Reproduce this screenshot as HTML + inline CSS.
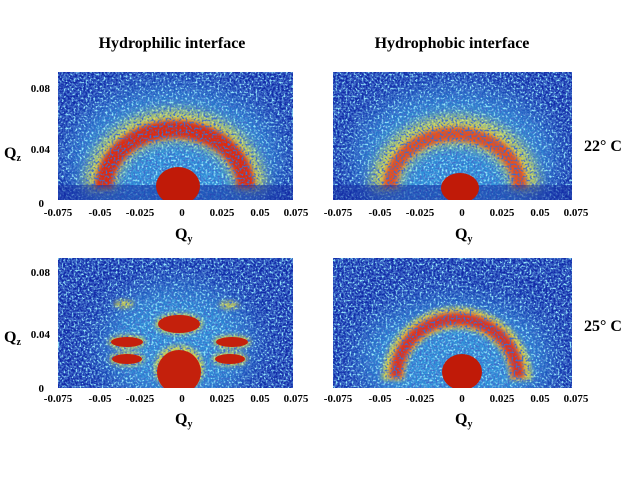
<!DOCTYPE html>
<html><head><meta charset="utf-8"><style>
body{margin:0;background:#fff;width:640px;height:480px;overflow:hidden}
text{font-family:"Liberation Serif",serif;font-weight:bold;fill:#000}
</style></head><body>
<svg width="640" height="480" xmlns="http://www.w3.org/2000/svg">
<defs>
<filter id="b6" x="-50%" y="-50%" width="200%" height="200%"><feGaussianBlur stdDeviation="6"/></filter>
<filter id="b3" x="-50%" y="-50%" width="200%" height="200%"><feGaussianBlur stdDeviation="2.5"/></filter>
<filter id="b15" x="-50%" y="-50%" width="200%" height="200%"><feGaussianBlur stdDeviation="15"/></filter>
<filter id="nz" x="0" y="0" width="100%" height="100%">
<feTurbulence type="fractalNoise" baseFrequency="0.5" numOctaves="2" seed="3"/>
<feColorMatrix type="matrix" values="0 0 0 0 0.3  0 0 0 0 0.8  0 0 0 0 0.95  5 0 0 0 -2.45"/>
</filter>
<filter id="nd" x="0" y="0" width="100%" height="100%">
<feTurbulence type="fractalNoise" baseFrequency="0.5" numOctaves="2" seed="9"/>
<feColorMatrix type="matrix" values="0 0 0 0 0.05  0 0 0 0 0.15  0 0 0 0 0.6  0 5 0 0 -2.4"/>
</filter>
<clipPath id="c1"><rect x="58" y="72" width="235" height="128"/></clipPath>
<clipPath id="c2"><rect x="333" y="72" width="239" height="128"/></clipPath>
<clipPath id="c3"><rect x="58" y="258" width="235" height="130"/></clipPath>
<clipPath id="c4"><rect x="333" y="258" width="239" height="130"/></clipPath>
</defs>
<text x="172" y="48" font-size="16" text-anchor="middle">Hydrophilic interface</text>
<text x="452" y="48" font-size="16" text-anchor="middle">Hydrophobic interface</text>

<!-- Panel 1 -->
<g clip-path="url(#c1)">
<rect x="58" y="72" width="235" height="128" fill="#122aa8"/>
<ellipse cx="175" cy="160" rx="105" ry="72" fill="#2f8ed8" filter="url(#b15)"/>
<rect x="58" y="72" width="235" height="128" filter="url(#nz)"/>
<path d="M100 190 A75 65 0 0 1 250 190" stroke="#e8e040" stroke-width="30" fill="none" filter="url(#b6)" opacity="0.9"/>
<path d="M104 188 A70 58 0 0 1 246 188" stroke="#e02a10" stroke-width="18" fill="none" filter="url(#b3)"/>
<rect x="58" y="72" width="235" height="128" filter="url(#nd)"/>
<rect x="58" y="185" width="235" height="15" fill="#1228a0" opacity="0.5"/>
<ellipse cx="178" cy="186" rx="22" ry="19" fill="#c01a08"/>
</g>
<!-- Panel 2 -->
<g clip-path="url(#c2)">
<rect x="333" y="72" width="239" height="128" fill="#122aa8"/>
<ellipse cx="455" cy="160" rx="100" ry="70" fill="#2f8ed8" filter="url(#b15)"/>
<rect x="333" y="72" width="239" height="128" filter="url(#nz)"/>
<path d="M385 190 A70 60 0 0 1 525 190" stroke="#e8e040" stroke-width="28" fill="none" filter="url(#b6)" opacity="0.9"/>
<path d="M390 188 A65 54 0 0 1 520 188" stroke="#e8501a" stroke-width="14" fill="none" filter="url(#b3)"/>
<rect x="333" y="72" width="239" height="128" filter="url(#nd)"/>
<rect x="333" y="185" width="239" height="15" fill="#1228a0" opacity="0.5"/>
<ellipse cx="460" cy="188" rx="19" ry="15" fill="#c01a08"/>
</g>
<!-- Panel 3 -->
<g clip-path="url(#c3)">
<rect x="58" y="258" width="235" height="130" fill="#122aa8"/>
<ellipse cx="178" cy="345" rx="75" ry="60" fill="#2f8ed8" filter="url(#b15)"/>
<rect x="58" y="258" width="235" height="130" filter="url(#nz)"/>
<g filter="url(#b3)" fill="#e8e040" opacity="0.85">
<ellipse cx="179" cy="324" rx="24" ry="11"/><ellipse cx="127" cy="342" rx="19" ry="7"/><ellipse cx="127" cy="359" rx="18" ry="7"/>
<ellipse cx="232" cy="342" rx="19" ry="7"/><ellipse cx="230" cy="359" rx="18" ry="7"/><ellipse cx="179" cy="368" rx="25" ry="23"/>
<ellipse cx="124" cy="304" rx="10" ry="4"/><ellipse cx="229" cy="305" rx="10" ry="4"/>
</g>
<rect x="58" y="258" width="235" height="130" filter="url(#nd)"/>
<g fill="#c4200c">
<ellipse cx="179" cy="324" rx="21" ry="9"/><ellipse cx="127" cy="342" rx="16" ry="5"/><ellipse cx="127" cy="359" rx="15" ry="5"/>
<ellipse cx="232" cy="342" rx="16" ry="5"/><ellipse cx="230" cy="359" rx="15" ry="5"/><ellipse cx="179" cy="372" rx="22" ry="22"/>
</g>
</g>
<!-- Panel 4 -->
<g clip-path="url(#c4)">
<rect x="333" y="258" width="239" height="130" fill="#122aa8"/>
<ellipse cx="455" cy="360" rx="95" ry="60" fill="#2f8ed8" filter="url(#b15)"/>
<rect x="333" y="258" width="239" height="130" filter="url(#nz)"/>
<path d="M393 380 A64 62 0 0 1 521 380" stroke="#e8e040" stroke-width="22" fill="none" filter="url(#b3)" opacity="0.9"/>
<path d="M396 378 A60 58 0 0 1 518 378" stroke="#e0301a" stroke-width="13" fill="none" filter="url(#b3)"/>
<rect x="333" y="258" width="239" height="130" filter="url(#nd)"/>
<ellipse cx="462" cy="372" rx="20" ry="18" fill="#c01a08"/>
</g>

<g font-size="11">
<text x="50" y="92" text-anchor="end">0.08</text><text x="50" y="153" text-anchor="end">0.04</text><text x="44" y="207" text-anchor="end">0</text>
<text x="50" y="276" text-anchor="end">0.08</text><text x="50" y="338" text-anchor="end">0.04</text><text x="44" y="392" text-anchor="end">0</text>
</g>
<text x="4" y="158" font-size="16">Q<tspan font-size="10" dy="3">z</tspan></text>
<text x="4" y="342" font-size="16">Q<tspan font-size="10" dy="3">z</tspan></text>
<g font-size="11" text-anchor="middle">
<g transform="translate(0,216)">
<text x="58">-0.075</text><text x="100">-0.05</text><text x="140">-0.025</text><text x="182">0</text><text x="222">0.025</text><text x="260">0.05</text><text x="296">0.075</text>
</g>
<g transform="translate(0,402)">
<text x="58">-0.075</text><text x="100">-0.05</text><text x="140">-0.025</text><text x="182">0</text><text x="222">0.025</text><text x="260">0.05</text><text x="296">0.075</text>
</g>
<g transform="translate(280,216)">
<text x="58">-0.075</text><text x="100">-0.05</text><text x="140">-0.025</text><text x="182">0</text><text x="222">0.025</text><text x="260">0.05</text><text x="296">0.075</text>
</g>
<g transform="translate(280,402)">
<text x="58">-0.075</text><text x="100">-0.05</text><text x="140">-0.025</text><text x="182">0</text><text x="222">0.025</text><text x="260">0.05</text><text x="296">0.075</text>
</g>
</g>
<text x="175" y="239" font-size="16">Q<tspan font-size="10" dy="3">y</tspan></text>
<text x="455" y="239" font-size="16">Q<tspan font-size="10" dy="3">y</tspan></text>
<text x="175" y="424" font-size="16">Q<tspan font-size="10" dy="3">y</tspan></text>
<text x="455" y="424" font-size="16">Q<tspan font-size="10" dy="3">y</tspan></text>
<text x="584" y="151" font-size="16">22° C</text>
<text x="584" y="331" font-size="16">25° C</text>
</svg>
</body></html>
